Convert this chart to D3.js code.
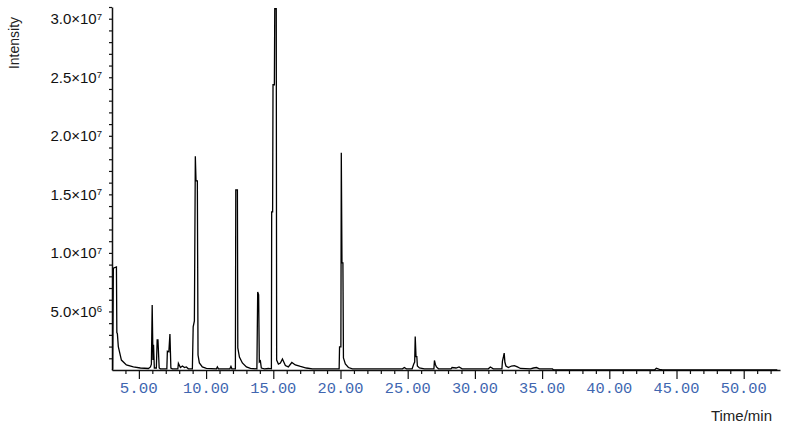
<!DOCTYPE html>
<html>
<head>
<meta charset="utf-8">
<script src="https://cdn.jsdelivr.net/npm/d3@7"></script>
<style>
    body { margin: 0; background: #fff; }
    .axis path, .axis line { stroke: #111; }
    .y-label { font-family: "Liberation Sans", Arial, sans-serif; font-size: 15px; fill: #111; }
    .x-label { font-family: "Liberation Mono", monospace; font-size: 15px; fill: #4066b0; }
    .axis-title { font-family: "Liberation Sans", Arial, sans-serif; fill: #222; }
</style>
</head>
<body>
<div id="chart"></div>
<script>

// Chromatogram trace (time in min, intensity in 1e6 counts)
let times = [
    3.03, 3.05, 3.10, 3.33, 3.36, 3.40, 3.47, 3.70, 4.07, 4.59, 5.11, 5.71,
    5.86, 5.93, 5.99, 6.05, 6.09, 6.15, 6.30, 6.36, 6.42, 6.51, 6.60,
    7.08, 7.12, 7.23, 7.31, 7.38, 7.49, 7.90, 7.94, 8.09, 8.24, 8.39, 8.53, 8.68,
    8.98, 9.04, 9.13, 9.20, 9.25, 9.35, 9.40, 9.50, 9.72, 10.02,
    10.77, 10.84, 10.92, 11.77, 11.85, 11.92,
    12.18, 12.21, 12.33, 12.36, 12.48, 12.70, 13.00, 13.30,
    13.78, 13.84, 13.91, 13.96, 14.04, 14.11, 14.34, 14.64,
    14.86, 14.88, 14.95, 14.98, 15.08, 15.11, 15.22, 15.25, 15.38,
    15.53, 15.68, 15.90, 16.12, 16.38, 16.64, 17.02, 17.46, 17.91, 18.88,
    19.90, 19.93, 20.03, 20.06, 20.11, 20.18, 20.22, 20.36, 20.59, 20.89,
    24.61, 24.75, 24.90,
    25.33, 25.45, 25.52, 25.56, 25.62, 25.68, 25.72, 25.87, 26.24,
    26.95, 26.99, 27.06, 27.14, 27.29,
    28.22, 28.30, 28.60, 28.82, 29.05, 31.00, 31.15, 31.37,
    32.01, 32.05, 32.12, 32.18, 32.23, 32.31, 32.49, 32.72, 32.94, 33.16, 33.39,
    34.13, 34.36, 34.58, 34.80, 35.77, 35.85,
    43.36, 43.50, 43.73, 43.95, 52.50
];

let intensities = [
    0.00, 0.10, 8.70, 8.80, 3.20, 3.10, 2.00, 0.85, 0.43, 0.26, 0.17, 0.13,
    0.26, 0.50, 5.55, 0.85, 2.15, 0.17, 0.17, 2.56, 2.56, 0.17, 0.10,
    0.10, 1.60, 1.55, 3.08, 0.17, 0.10, 0.10, 0.56, 0.21, 0.34, 0.21, 0.26, 0.10,
    0.10, 3.68, 4.19, 18.25, 16.15, 16.15, 1.28, 0.60, 0.26, 0.13,
    0.10, 0.26, 0.10, 0.10, 0.30, 0.10,
    0.10, 15.38, 15.38, 1.88, 1.11, 0.60, 0.26, 0.13,
    0.10, 6.67, 6.41, 0.68, 0.77, 0.17, 0.10, 0.13,
    0.10, 13.50, 13.50, 24.36, 24.36, 30.85, 30.85, 0.85, 0.51,
    0.60, 0.94, 0.38, 0.26, 0.64, 0.43, 0.30, 0.17, 0.10, 0.10,
    0.10, 1.97, 1.97, 18.55, 9.15, 9.15, 1.03, 0.51, 0.21, 0.10,
    0.10, 0.21, 0.10,
    0.10, 0.51, 0.68, 2.86, 1.15, 1.15, 0.34, 0.17, 0.10,
    0.10, 0.81, 0.47, 0.26, 0.10,
    0.10, 0.21, 0.17, 0.26, 0.10, 0.10, 0.26, 0.10,
    0.10, 0.77, 1.11, 1.45, 0.68, 0.34, 0.21, 0.34, 0.38, 0.26, 0.13,
    0.10, 0.17, 0.21, 0.10, 0.10, 0.00,
    0.00, 0.15, 0.05, 0.00, 0.00
];

// Tick labels
let xLabelValues = [5, 10, 15, 20, 25, 30, 35, 40, 45, 50];
let xLabels = ["5.00", "10.00", "15.00", "20.00", "25.00", "30.00", "35.00", "40.00", "45.00", "50.00"];
let yLabelValues = [5, 10, 15, 20, 25, 30];
let yLabelMantissa = ["5.0", "1.0", "1.5", "2.0", "2.5", "3.0"];
let yLabelExponent = ["6", "7", "7", "7", "7", "7"];

let trace = times.map((t, i) => ({time: t, value: intensities[i]}));

let margin = {top: 7, right: 7, bottom: 61, left: 112},
    width = 787 - margin.left - margin.right,
    height = 431 - margin.top - margin.bottom;

let svg = d3.select("#chart").append("svg")
    .attr("width", 787)
    .attr("height", 431)
    .append("g")
    .attr("transform", "translate(" + margin.left + "," + margin.top + ")");

let x = d3.scaleLinear()
    .domain([3, 52.7])
    .range([0, width]);

let y = d3.scaleLinear()
    .domain([0, 31])
    .range([height, 0]);

// ---- AXES ----
let yAxis = d3.axisLeft(y)
    .tickValues(d3.range(1, 32))
    .tickSize(3)
    .tickSizeOuter(0)
    .tickFormat("");

svg.append("g")
    .attr("class", "y-axis axis")
    .call(yAxis)
    .call(g => g.select(".domain").attr("stroke-width", 1.5))
    .call(g => g.selectAll(".tick line").attr("stroke-width", 1.2));

let xAxis = d3.axisBottom(x)
    .tickValues(d3.range(4, 53))
    .tickSize(3)
    .tickSizeOuter(0)
    .tickFormat("");

svg.append("g")
    .attr("class", "x-axis axis")
    .attr("transform", "translate(0," + height + ")")
    .call(xAxis)
    .call(g => g.select(".domain").attr("stroke-width", 1.5))
    .call(g => g.selectAll(".tick line")
        .attr("stroke-width", 1.2)
        .attr("y2", d => d % 5 === 0 ? 9 : 4));

// ---- TRACE ----
let line = d3.line()
    .x(d => x(d.time))
    .y(d => y(d.value));

svg.append("path")
    .datum(trace)
    .attr("fill", "none")
    .attr("stroke", "#000")
    .attr("stroke-width", 1.3)
    .attr("d", line);

// ---- LABELS ----
svg.selectAll("text.x-label")
    .data(xLabelValues)
    .enter()
    .append("text")
    .attr("class", "x-label")
    .attr("x", d => x(d))
    .attr("y", height + 23)
    .attr("text-anchor", "middle")
    .attr("textLength", (d, i) => xLabels[i].length === 4 ? 38 : 46)
    .attr("lengthAdjust", "spacingAndGlyphs")
    .text((d, i) => xLabels[i]);

let yLabel = svg.selectAll("text.y-label")
    .data(yLabelValues)
    .enter()
    .append("text")
    .attr("class", "y-label")
    .attr("x", -10)
    .attr("y", d => y(d))
    .attr("dy", "0.35em")
    .attr("text-anchor", "end");

yLabel.append("tspan")
    .text((d, i) => yLabelMantissa[i] + "\u00d710");
yLabel.append("tspan")
    .attr("dy", "-0.45em")
    .attr("font-size", "9.5px")
    .text((d, i) => yLabelExponent[i]);

svg.append("text")
    .attr("class", "axis-title")
    .attr("transform", "translate(" + (19 - margin.left) + ",36) rotate(-90)")
    .attr("text-anchor", "middle")
    .attr("font-size", 14)
    .text("Intensity");

svg.append("text")
    .attr("class", "axis-title")
    .attr("x", 772 - margin.left)
    .attr("y", 421 - margin.top)
    .attr("text-anchor", "end")
    .attr("font-size", 15)
    .text("Time/min");

</script>
</body>
</html>
